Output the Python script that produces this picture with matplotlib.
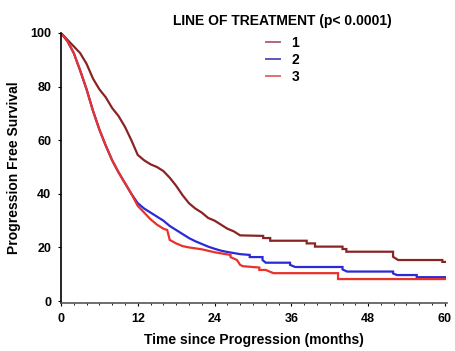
import matplotlib
matplotlib.use("Agg")
import matplotlib.pyplot as plt

# Curves (months, % progression free).
# A month listed twice marks a vertical drop of the survival step.
months_1 = [0, 1, 2, 3, 4, 5, 6, 7, 8, 9, 10, 11, 12, 13, 14, 15, 16, 17, 18, 19,
            20, 21, 22, 23, 24, 25, 26, 27, 28, 31.6, 31.6, 32.7, 32.7, 38.4, 38.4, 39.7, 39.7,
            44, 44, 44.6, 44.6, 51.9, 51.9, 52.7, 59.6, 59.6, 60]
surv_1 = [100, 97.5, 95, 92.5, 88.5, 83, 79, 76, 72, 69, 65, 60, 54.5, 52.5, 51, 50, 48.5, 46, 43, 39.5,
          36.5, 34.5, 33, 31, 30, 28.5, 27, 26, 24.5, 24.3, 23.5, 23.5, 22.5, 22.5, 21.5, 21.5, 20.3,
          20.3, 19.4, 19.4, 18.4, 18.4, 16.5, 15.3, 15.3, 14.6, 14.6]

months_2 = [0, 1, 2, 3, 4, 5, 6, 7, 8, 9, 10, 11, 12, 13, 14, 15, 16, 17, 18, 19,
            20, 21, 22, 23, 24, 25, 26, 28, 29.5, 29.5, 31.5, 31.5, 32, 35.8, 35.8, 36.6,
            44, 44, 44.7, 51.9, 51.9, 52.5, 55.6, 55.6, 60]
surv_2 = [100, 97, 92.5, 86, 79, 71, 64, 58, 52.5, 48, 44, 40, 36.5, 34.5, 33, 31.5, 30, 28, 26.5, 25,
          23.5, 22.3, 21.3, 20.3, 19.5, 18.8, 18.3, 17.5, 17.2, 16.4, 16.4, 15.3, 14.3, 14.3, 13.5, 12.7,
          12.7, 11.8, 11, 11, 10.3, 9.7, 9.7, 8.9, 8.9]

months_3 = [0, 1, 2, 3, 4, 5, 6, 7, 8, 9, 10, 11, 12, 13, 14, 15, 16, 16.6, 17, 18, 19,
            20, 22, 24, 26.5, 26.5, 27.5, 28, 28.4, 31, 31, 32, 33.2, 43.3, 43.3, 60]
surv_3 = [100, 97, 92.5, 86, 79, 71, 64, 58, 52.5, 48, 44, 40, 35.5, 33, 30.5, 28.5, 27, 26.5, 22.8, 21.5, 20.5,
          20, 19.3, 18.2, 17.2, 16.4, 15.3, 13.5, 13, 12.5, 11.6, 11.6, 10.4, 10.4, 8.2, 8.2]

labels = ["1", "2", "3"]
colors = ["#8a2424", "#2a2ad6", "#e8322a"]
legend_colors = ["#b06878", "#5a5ab8", "#e07070"]
x_ticks = [0, 12, 24, 36, 48, 60]
y_ticks = [0, 20, 40, 60, 80, 100]

plt.rcParams['font.family'] = ['Liberation Sans', 'DejaVu Sans']

fig = plt.figure(figsize=(4.55, 3.51), dpi=100)
ax = fig.add_axes([0.134, 0.137, 0.848, 0.769])

for m, s, lab, c in zip([months_1, months_2, months_3], [surv_1, surv_2, surv_3], labels, colors):
    ax.plot(m, s, color=c, lw=1.6, label=lab, solid_joinstyle='miter')

ax.set_xlim(0, 60.3)
ax.set_ylim(-0.7, 100)
ax.set_xticks(x_ticks)
ax.set_yticks(y_ticks)
ax.set_xticks(range(0, 61, 2), minor=True)
ax.tick_params(labelsize=9, length=2, width=0.8, pad=5)
ax.tick_params(which='minor', length=1.5, width=0.6)
for lbl in ax.get_xticklabels() + ax.get_yticklabels():
    lbl.set_fontweight('bold')

for side in ['top', 'right']:
    ax.spines[side].set_visible(False)
ax.spines['left'].set_linewidth(1.2)
ax.spines['bottom'].set_linewidth(1.2)
ax.spines['bottom'].set_color('#555555')

ax.set_xlabel("Time since Progression (months)", fontsize=10, fontweight='bold', labelpad=6)
ax.set_ylabel("Progression Free Survival", fontsize=10, fontweight='bold', labelpad=7)

leg = ax.legend(title="LINE OF TREATMENT (p< 0.0001)", loc='upper center',
                bbox_to_anchor=(0.575, 1.118), frameon=False, fontsize=10,
                handlelength=1.0, handletextpad=0.8, labelspacing=0.2,
                title_fontsize=10)
leg._legend_box.sep = 6
leg.get_title().set_fontweight('bold')
for t in leg.get_texts():
    t.set_fontweight('bold')
for h, c in zip(leg.legend_handles, legend_colors):
    h.set_color(c)
    h.set_linewidth(1.4)

fig.savefig("out.png", dpi=100)
